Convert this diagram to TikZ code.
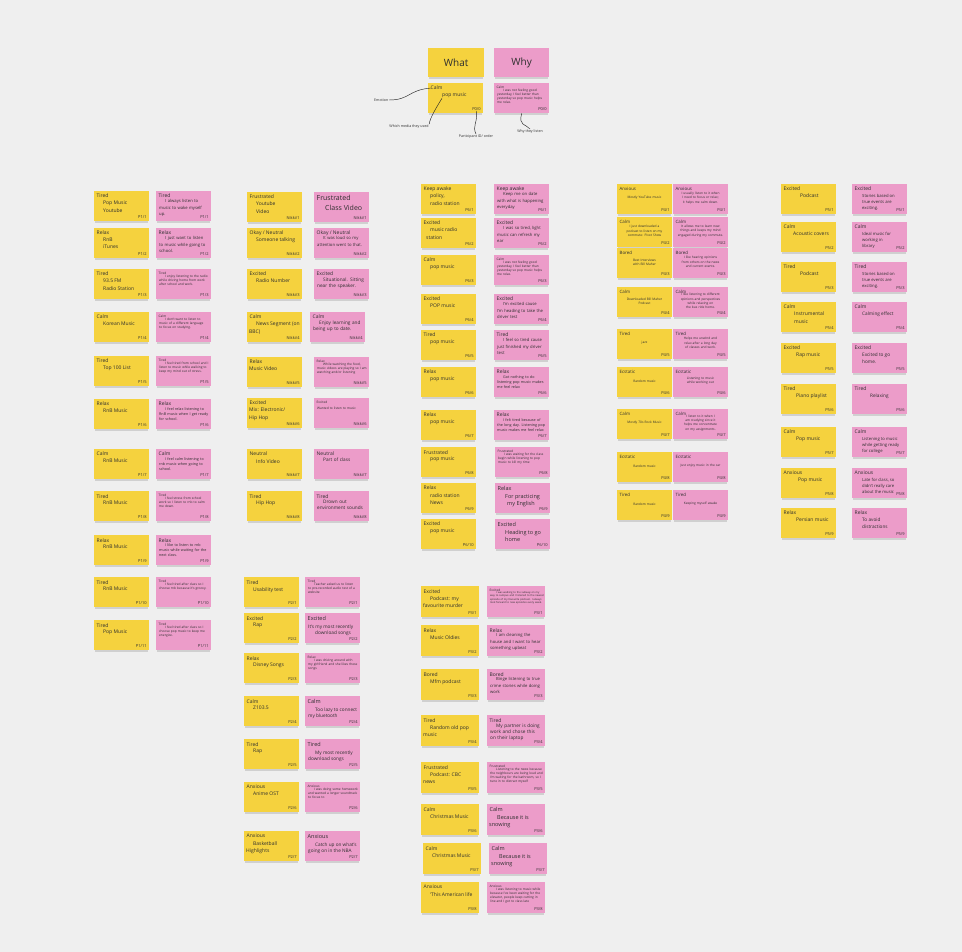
\documentclass[tikz,border=0pt]{standalone}
\usepackage{fontspec}
\setmainfont{Open Sans}
\usetikzlibrary{shadows}
\definecolor{bgc}{HTML}{EFEFEF}
\definecolor{stY}{HTML}{F5D23E}
\definecolor{stP}{HTML}{EC9CC9}
\definecolor{ink}{HTML}{2E2E2E}
\newcommand\FsX{\fontsize{2.6}{3.3}\selectfont}
\newcommand\FsT{\fontsize{3.2}{4.2}\selectfont}
\newcommand\FsS{\fontsize{3.7}{5}\selectfont}
\newcommand\FsM{\fontsize{4.2}{6.2}\selectfont}
\newcommand\FsL{\fontsize{4.7}{6.3}\selectfont}
\newcommand\FsB{\fontsize{5.5}{7}\selectfont}
\newcommand\FsH{\fontsize{7}{8.5}\selectfont}
\tikzset{
 colw/.style={},
 stk/.style={rectangle, anchor=north west, minimum width=55pt, minimum height=30pt, inner sep=0pt,
   drop shadow={shadow xshift=0pt, shadow yshift=-2.5pt, opacity=0.28, shadow scale=0.96}, colw},
 emo/.style={anchor=north west, inner sep=0pt, font=\fontsize{5}{6.5}\selectfont, text=ink},
 yb/.style={anchor=north west, inner sep=0pt, align=left, font=\fontsize{5}{7.2}\selectfont, text=ink},
 pbm/.style={anchor=north west, inner sep=0pt, align=left, text width=49pt, font=\FsM, text=ink,
   xshift=-6pt, yshift=1.5pt, execute at begin node={\hyphenpenalty=10000\exhyphenpenalty=10000\hbadness=10000\hfuzz=20pt\hspace*{6pt}}},
 pbt/.style={pbm, font=\FsT, text width=50pt, yshift=3pt},
 pl/.style={yb, font=\FsM, xshift=1pt},
 pbg/.style={yb, font=\FsB, xshift=1pt, yshift=-1.5pt},
 cbd/.style={anchor=center, inner sep=0pt, align=center, text width=46pt, font=\FsT, text=ink,
   xshift=18.5pt, yshift=-4pt, execute at begin node={\hyphenpenalty=10000}},
 idt/.style={anchor=south east, inner sep=0pt, font=\fontsize{4}{5}\selectfont, text=ink},
 ann/.style={inner sep=0.5pt, font=\fontsize{3.6}{4.5}\selectfont, text=ink},
 annline/.style={draw=black!85, line width=0.45pt},
}
% #1 note opts, #2 emotion opts, #3 body opts, #4 name, #5 x, #6 y, #7 emotion, #8 body, #9 id
\newcommand\sticky[9]{%
 \node[stk,#1] (#4) at (#5,#6) {};
 \node[emo,#2] (#4e) at ([shift={(2.5,3)}]#4.north west) {#7};
 \node[#3] (#4b) at ([shift={(9,10)}]#4.north west) {#8};
 \node[idt] (#4i) at ([shift={(-2.5,-2.5)}]#4.south east) {#9};}
\newcommand\Yw[7][]{\sticky{fill=stY}{}{yb,#1}{#2}{#3}{#4}{#5}{#6}{#7}}
\newcommand\Pk[7][]{\sticky{fill=stP}{}{pbm,#1}{#2}{#3}{#4}{#5}{#6}{#7}}
\newcommand\Ptn[7][]{\sticky{fill=stP}{font=\FsT}{pbt,#1}{#2}{#3}{#4}{#5}{#6}{#7}}
\newcommand\Pl[7][]{\sticky{fill=stP}{}{pl,#1}{#2}{#3}{#4}{#5}{#6}{#7}}
\newcommand\Pbg[7][]{\sticky{fill=stP}{font=\FsB}{pbg,#1}{#2}{#3}{#4}{#5}{#6}{#7}}
\newcommand\Cy[7][]{\sticky{fill=stY}{font=\fontsize{4.4}{5}\selectfont}{cbd,#1}{#2}{#3}{#4}{#5}{#6}{#7}}
\newcommand\Cp[7][]{\sticky{fill=stP}{font=\fontsize{4.4}{5}\selectfont}{cbd,#1}{#2}{#3}{#4}{#5}{#6}{#7}}

\begin{document}
\begin{tikzpicture}[x=1pt,y=-1pt]
\fill[bgc] (0,0) rectangle (962,952);
\useasboundingbox (0,0) rectangle (962,952);

% ---------- legend ----------
\node[stk, fill=stY, minimum width=56pt, minimum height=29pt, text=ink, font=\fontsize{10}{12}\selectfont] (what) at (428,48) {What};
\node[stk, fill=stP, minimum width=55pt, minimum height=29pt, text=ink, font=\fontsize{10}{12}\selectfont] (why) at (494,48) {Why};
\Yw[xshift=5pt]{lgY}{428}{83}{Calm}{pop music}{P0/0}
\Ptn{lgP}{494}{83}{Calm}{I was not feeling good yesterday, I feel better than yesterday so pop music helps me relax.}{P0/0}
\node[ann, anchor=east] (lab1) at (389,100) {Emotion};
\node[ann, anchor=north] (lab2) at (409,124) {Which media they used};
\node[ann, anchor=north] (lab3) at (476,134) {Participant ID/ order};
\node[ann, anchor=north] (lab4) at (530,129) {Why they listen};
\draw[annline] (lab1.east) .. controls (410,100) and (408,90) .. (lgYe.west);
\draw[annline] (lab2.north east) .. controls (430,118) and (436,108) .. (lgYb.south west);
\draw[annline] (lgYi.south) .. controls (478,122) and (472,126) .. (lab3.north);
\draw[annline] (lgP.south) .. controls (518,126) and (526,124) .. (lab4.north);

% ---------- column 1 ----------
\Yw{a1}{94}{191}{Tired}{Pop Music\\Youtube}{P1/1}
\Pk{b1}{156}{191}{Tired}{I always listen to music to wake myself up.}{P1/1}
\Yw{a2}{94}{228}{Relax}{RnB\\iTunes}{P1/2}
\Pk{b2}{156}{228}{Relax}{I just want to listen to music while going to school.}{P1/2}
\Yw{a3}{94}{269}{Tired}{93.5 FM\\Radio Station}{P1/3}
\Ptn{b3}{156}{269}{Tired}{I enjoy listening to the radio while driving home from work after school and work.}{P1/3}
\Yw{a4}{94}{312}{Calm}{Korean Music}{P1/4}
\Ptn{b4}{156}{312}{Calm}{I don't want to listen to music of a different language to focus on studying.}{P1/4}
\Yw{a5}{94}{356}{Tired}{Top 100 List}{P1/5}
\Ptn{b5}{156}{356}{Tired}{I feel tired from school and I listen to music while walking to keep my mind out of stress.}{P1/5}
\Yw{a6}{94}{399}{Relax}{RnB Music}{P1/6}
\Pk[font=\FsS]{b6}{156}{399}{Relax}{I feel relax listening to RnB music when I get ready for school.}{P1/6}
\Yw{a7}{94}{449}{Calm}{RnB Music}{P1/7}
\Pk[font=\FsS]{b7}{156}{449}{Calm}{I feel calm listening to rnb music when going to school.}{P1/7}
\Yw{a8}{94}{491}{Tired}{RnB Music}{P1/8}
\Ptn{b8}{156}{491}{Tired}{I feel stress from school work so I listen to rnb to calm me down.}{P1/8}
\Yw{a9}{94}{535}{Relax}{RnB Music}{P1/9}
\Pk[font=\FsS]{b9}{156}{535}{Relax}{I like to listen to rnb music while waiting for the next class.}{P1/9}
\Yw{a10}{94}{577}{Tired}{RnB Music}{P1/10}
\Ptn{b10}{156}{577}{Tired}{I feel tired after class so I choose rnb because it's groovy.}{P1/10}
\Yw{a11}{94}{620}{Tired}{Pop Music}{P1/11}
\Ptn{b11}{156}{620}{Tired}{I feel tired after class so I choose pop music to keep me energize.}{P1/11}

% ---------- column 2 ----------
\Yw{c1}{247}{192}{Frustrated}{Youtube\\Video}{Nikki/1}
\Pbg[font=\FsH, xshift=1pt, yshift=-1pt]{d1}{314}{192}{\FsH Frustrated}{Class Video}{Nikki/1}
\Yw{c2}{247}{228}{Okay / Neutral}{Someone talking}{Nikki/2}
\Pk{d2}{314}{228}{Okay / Neutral}{It was loud so my attention went to that.}{Nikki/2}
\Yw{c3}{247}{269}{Excited}{Radio Number}{Nikki/3}
\Pk[font=\FsL]{d3}{314}{269}{Excited}{Situational. Sitting near the speaker.}{Nikki/3}
\Yw{c4}{247}{312}{Calm}{News Segment (on\\\hspace*{-7pt}BBC)}{Nikki/4}
\Pk[font=\FsL]{d4}{310}{312}{Calm}{Enjoy learning and being up to date.}{Nikki/4}
\Yw[xshift=-7pt]{c5}{247}{357}{Relax}{Music Video}{Nikki/5}
\Ptn{d5}{314}{357}{Relax}{While watching the food, music videos are playing so I am watching and/or listening}{Nikki/5}
\Yw[xshift=-7pt]{c6}{247}{398}{Excited}{Mix: Electronic/\\Hip Hop}{Nikki/6}
\Ptn[yshift=-3pt]{d6}{314}{398}{Excited}{\hspace*{-6pt}Wanted to listen to music}{Nikki/6}
\Yw{c7}{247}{449}{Neutral}{Info Video}{Nikki/7}
\Pk[font=\FsL]{d7}{314}{449}{Neutral}{Part of class}{Nikki/7}
\Yw{c8}{247}{491}{Tired}{Hip Hop}{Nikki/8}
\Pk[font=\FsL]{d8}{314}{491}{Tired}{Drown out environment sounds}{Nikki/8}

% ---------- column 3 ----------
\Yw{e1}{421}{184}{Keep awake}{policy,\\radio station}{P6/1}
\Pk{f1}{494}{184}{Keep awake}{Keep me on date with what is happening everyday}{P6/1}
\Yw{e2}{421}{218}{Excited}{music radio\\\hspace*{-4pt}station}{P6/2}
\Pk{f2}{494}{218}{Excited}{I was so tired, light music can refresh my ear}{P6/2}
\Yw{e3}{421}{255}{Calm}{pop music}{P6/3}
\Ptn{f3}{494}{255}{Calm}{I was not feeling good yesterday, I feel better than yesterday so pop music helps me relax.}{P6/3}
\Yw{e4}{421}{294}{Excited}{POP music}{P6/4}
\Pk{f4}{494}{294}{Excited}{I'm excited cause I'm heading to take the driver test}{P6/4}
\Yw{e5}{421}{330}{Tired}{pop music}{P6/5}
\Pk{f5}{494}{330}{Tired}{I feel so tired cause just finished my driver test}{P6/5}
\Yw{e6}{421}{367}{Relax}{pop music}{P6/6}
\Pk[font=\FsS]{f6}{494}{367}{Relax}{Got nothing to do listening pop music makes me feel relax}{P6/6}
\Yw{e7}{421}{410}{Relax}{pop music}{P6/7}
\Pk[font=\FsS]{f7}{494}{410}{Relax}{I felt tired because of the long day. Listening pop music makes me feel relax}{P6/7}
\Yw{e8}{421}{447}{Frustrated}{pop music}{P6/8}
\Ptn{f8}{495}{447}{Frustrated}{I was waiting for the class begin while listening to pop music to kill my time}{P6/8}
\Yw{e9}{421}{483}{Relax}{radio station\\News}{P6/9}
\Pbg{f9}{495}{483}{Relax}{For practicing\\\hspace*{2pt}my English}{P6/9}
\Yw{e10}{421}{519}{Excited}{pop music}{P6/10}
\Pbg{f10}{495}{519}{Excited}{Heading to go\\home}{P6/10}

% ---------- column 4 ----------
\Cy{g1}{617}{184}{Anxious}{Mostly YouTube music}{P4/1}
\Cp{h1}{673}{184}{Anxious}{I usually listen to it when I need to focus or relax; it helps me calm down.}{P4/1}
\Cy{g2}{617}{217}{Calm}{I just downloaded a podcast to listen on my commute: Pivot Show}{P4/2}
\Cp{h2}{673}{217}{Calm}{It allows me to learn new things and keeps my mind engaged during my commute.}{P4/2}
\Cy{g3}{617}{248}{Bored}{Best Interviews with Bill Maher}{P4/3}
\Cp{h3}{673}{248}{Bored}{I like hearing opinions from others on the news and current events.}{P4/3}
\Cy{g4}{617}{287}{Calm}{Downloaded Bill Maher\\Podcast}{P4/4}
\Cp{h4}{673}{287}{Calm}{I like listening to different opinions and perspectives while relaxing on the bus ride home.}{P4/4}
\Cy{g5}{617}{329}{Tired}{jazz}{P4/5}
\Cp{h5}{673}{329}{Tired}{Helps me unwind and relax after a long day of classes and work.}{P4/5}
\Cy{g6}{617}{367}{Ecstatic}{Random music}{P4/6}
\Cp{h6}{673}{367}{Ecstatic}{Listening to music while working out}{P4/6}
\Cy{g7}{617}{409}{Calm}{Mostly 70s Rock Music}{P4/7}
\Cp{h7}{673}{409}{Calm}{I listen to it when I am studying since it helps me concentrate on my assignments.}{P4/7}
\Cy{g8}{617}{452}{Ecstatic}{Random music}{P4/8}
\Cp{h8}{673}{452}{Ecstatic}{Just enjoy music in the car}{P4/8}
\Cy{g9}{617}{490}{Tired}{Random music}{P4/9}
\Cp{h9}{673}{490}{Tired}{Keeping myself awake}{P4/9}

% ---------- column 5 ----------
\Yw[xshift=10pt]{i1}{781}{184}{Excited}{Podcast}{P5/1}
\Pl{j1}{852}{184}{Excited}{Stories based on\\true events are\\exciting.}{P5/1}
\Yw[xshift=3pt]{i2}{781}{222}{Calm}{Acoustic covers}{P5/2}
\Pl{j2}{852}{222}{Calm}{Ideal music for\\working in\\library}{P5/2}
\Yw[xshift=10pt]{i3}{781}{262}{Tired}{Podcast}{P5/3}
\Pl{j3}{852}{262}{Tired}{Stories based on\\true events are\\exciting.}{P5/3}
\Yw[xshift=4pt]{i4}{781}{302}{Calm}{Instrumental\\music}{P5/4}
\Pl[font=\FsL]{j4}{852}{302}{Calm}{Calming effect}{P5/4}
\Yw[xshift=6pt]{i5}{781}{343}{Excited}{Rap music}{P5/5}
\Pl[font=\FsL]{j5}{852}{343}{Excited}{Excited to go\\home.}{P5/5}
\Yw[xshift=6pt]{i6}{781}{384}{Tired}{Piano playlist}{P5/6}
\Pl[font=\FsL, xshift=8pt]{j6}{852}{384}{Tired}{Relaxing}{P5/6}
\Yw[xshift=6pt]{i7}{781}{427}{Calm}{Pop music}{P5/7}
\Pl{j7}{852}{427}{Calm}{Listening to music\\while getting ready\\for college}{P5/7}
\Yw[xshift=8pt]{i8}{781}{468}{Anxious}{Pop music}{P5/8}
\Pl{j8}{852}{468}{Anxious}{Late for class, so\\didn't really care\\about the music}{P5/8}
\Yw[xshift=6pt]{i9}{781}{508}{Relax}{Persian music}{P5/9}
\Pl[font=\FsL]{j9}{852}{508}{Relax}{To avoid\\distractions}{P5/9}

% ---------- lower column 2 ----------
\Yw{k1}{244}{577}{Tired}{Usability test}{P2/1}
\Ptn{l1}{305}{577}{Tired}{Teacher asked us to listen to pre-recorded audio test of a website}{P2/1}
\Yw{k2}{244}{613}{Excited}{Rap}{P2/2}
\Pbg[font=\FsL]{l2}{305}{613}{Excited}{\hspace*{-7pt}It's my most recently\\download songs}{P2/2}
\Yw{k3}{244}{653}{Relax}{Disney Songs}{P2/3}
\Ptn{l3}{305}{653}{Relax}{I was driving around with my girlfriend and she likes these songs}{P2/3}
\Yw{k4}{244}{696}{Calm}{Z103.5}{P2/4}
\Pbg[font=\FsL]{l4}{305}{696}{Calm}{Too lazy to connect\\\hspace*{-7pt}my bluetooth}{P2/4}
\Yw{k5}{244}{739}{Tired}{Rap}{P2/5}
\Pbg[font=\FsL]{l5}{305}{739}{Tired}{My most recently\\\hspace*{-7pt}download songs}{P2/5}
\Yw{k6}{244}{782}{Anxious}{Anime OST}{P2/6}
\Ptn{l6}{305}{782}{Anxious}{I was doing some homework and wanted a longer soundtrack to focus to}{P2/6}
\Yw{k7}{244}{831}{Anxious}{Basketball\\\hspace*{-7pt}Highlights}{P2/7}
\Pbg[font=\FsL]{l7}{305}{831}{Anxious}{Catch up on what's\\\hspace*{-7pt}going on in the NBA}{P2/7}

% ---------- lower column 3 ----------
\begin{scope}[colw/.style={minimum width=58pt, minimum height=31pt}]
\Yw{m1}{421}{586}{Excited}{Podcast: my\\\hspace*{-7pt}favourite murder}{P3/1}
\Ptn[font=\FsX, text width=54pt]{n1}{487}{586}{Excited}{I was walking to the subway on my way to campus and I listened to the newest episode of my favourite podcast. I always look forward to new episodes every week.}{P3/1}
\Yw{m2}{421}{625}{Relax}{Music Oldies}{P3/2}
\Pk[text width=52pt]{n2}{487}{625}{Relax}{I am cleaning the house and I want to hear something upbeat}{P3/2}
\Yw{m3}{421}{669}{Bored}{Mfm podcast}{P3/3}
\Pk[text width=52pt]{n3}{487}{669}{Bored}{Binge listening to true crime stories while doing work}{P3/3}
\Yw{m4}{421}{715}{Tired}{Random old pop\\\hspace*{-7pt}music}{P3/4}
\Pk[font=\FsL, text width=52pt]{n4}{487}{715}{Tired}{My partner is doing work and chose this on their laptop}{P3/4}
\Yw{m5}{421}{762}{Frustrated}{Podcast: CBC\\\hspace*{-7pt}news}{P3/5}
\Ptn[text width=53pt]{n5}{487}{762}{Frustrated}{Listening to the news because the neighbours are being loud and I'm waiting for the bathroom, so I tune in to distract myself}{P3/5}
\Yw{m6}{421}{804}{Calm}{Christmas Music}{P3/6}
\Pbg{n6}{487}{804}{Calm}{Because it is\\\hspace*{-8pt}snowing}{P3/6}
\Yw{m7}{423}{843}{Calm}{Christmas Music}{P3/7}
\Pbg{n7}{489}{843}{Calm}{Because it is\\\hspace*{-8pt}snowing}{P3/7}
\Yw{m8}{421}{882}{Anxious}{`This American life}{P3/8}
\Ptn[text width=53pt]{n8}{487}{882}{Anxious}{I was listening to music while because I've been waiting for the elevator, people keep cutting in line and I got to class late}{P3/8}
\end{scope}
\end{tikzpicture}
\end{document}
